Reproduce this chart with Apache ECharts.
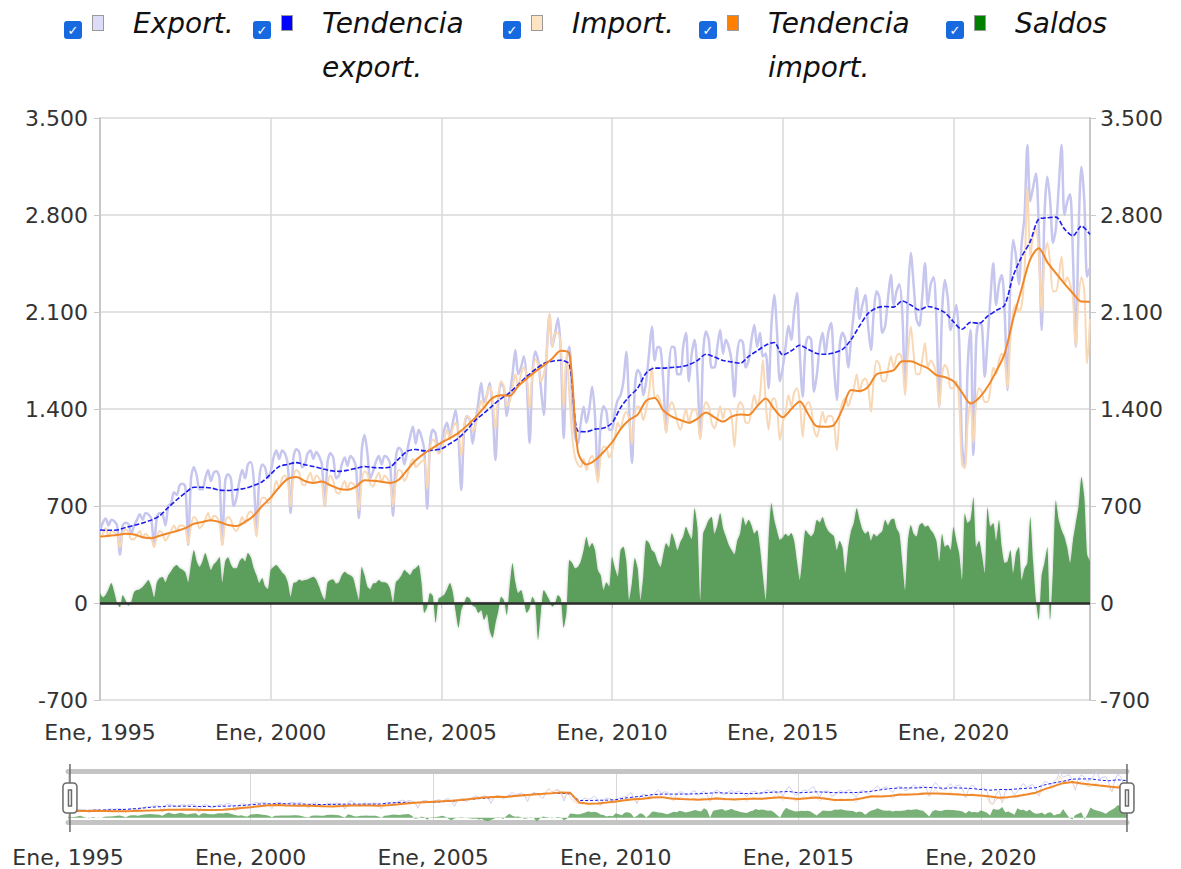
<!DOCTYPE html>
<html>
<head>
<meta charset="utf-8">
<title>Export / Import</title>
<script src="https://cdn.jsdelivr.net/npm/echarts@6/dist/echarts.min.js"></script>
<style>
  html, body { margin: 0; padding: 0; background: #fff; }
  #chart { width: 1181px; height: 869px; }
</style>
</head>
<body>
<div id="chart"></div>
<script>
// monthly values, Jan 1995 .. Jan 2024 (one row per year)
const exportsMonthly = [
  520, 580, 610, 560, 600, 590, 560, 350, 560, 580, 570, 500,
  560, 600, 640, 600, 650, 640, 610, 420, 620, 650, 640, 560,
  700, 720, 800, 780, 850, 860, 840, 420, 900, 980, 920, 820,
  820, 900, 960, 880, 940, 950, 900, 420, 880, 930, 900, 700,
  760, 880, 960, 900, 1000, 1018, 900, 540, 900, 1000, 980, 900,
  950, 1050, 1100, 1040, 1100, 1080, 1000, 650, 1050, 1110, 1090, 980,
  1000, 1080, 1100, 1040, 1090, 1060, 1000, 700, 1020, 1080, 1050, 900,
  920, 1000, 1050, 990, 1060, 1040, 980, 613, 1100, 1212, 1080, 900,
  950, 1020, 1060, 1000, 1060, 1050, 1000, 630, 1050, 1120, 1100, 1000,
  1100, 1200, 1272, 1150, 1250, 1200, 1100, 680, 1150, 1250, 1220, 1080,
  1150, 1250, 1300, 1200, 1300, 1393, 1200, 815, 1250, 1350, 1320, 1150,
  1300, 1450, 1587, 1450, 1500, 1587, 1400, 1032, 1450, 1580, 1550, 1350,
  1500, 1650, 1826, 1650, 1700, 1780, 1600, 1155, 1650, 1815, 1750, 1550,
  1357, 1800, 2078, 1850, 1950, 2054, 1800, 1190, 1750, 1850, 1450, 1200,
  1150, 1300, 1417, 1300, 1400, 1561, 1350, 890, 1300, 1420, 1380, 1250,
  1250, 1380, 1465, 1500, 1600, 1814, 1400, 1010, 1550, 1681, 1650, 1500,
  1600, 1800, 1994, 1750, 1850, 1838, 1600, 1236, 1700, 1850, 1840, 1650,
  1650, 1850, 1948, 1600, 1800, 1900, 1650, 1190, 1800, 1960, 1900, 1700,
  1700, 1850, 1970, 1800, 1900, 1850, 1750, 1489, 1800, 1898, 1880, 1700,
  1750, 1900, 2006, 1850, 1950, 1780, 1800, 1550, 2000, 2223, 1950, 1600,
  1700, 1850, 2000, 1900, 2100, 2237, 1800, 1489, 1850, 1922, 1900, 1525,
  1650, 1850, 1950, 1800, 1950, 2020, 1700, 1465, 1850, 1950, 1900, 1700,
  1900, 2100, 2273, 2050, 2150, 2223, 2000, 1826, 2100, 2250, 2200, 1950,
  2000, 2200, 2367, 2150, 2250, 2300, 2100, 1561, 2200, 2526, 2300, 2050,
  2000, 2200, 2451, 2150, 2300, 2350, 2050, 1417, 2100, 2331, 2200, 1970,
  2050, 2150, 1900, 1150, 984, 1700, 1970, 1068, 1900, 2020, 2000, 1633,
  1900, 2200, 2451, 2150, 2300, 2367, 2100, 1537, 2300, 2620, 2500, 2300,
  2600, 2800, 3305, 2900, 3000, 3100, 2700, 1970, 2800, 3076, 2900, 2600,
  2700, 3000, 3305, 2800, 2896, 2950, 2500, 1850, 2700, 3149, 2900, 2355,
  2420
];
const importsMonthly = [
  470, 500, 540, 480, 520, 510, 490, 400, 500, 530, 510, 460,
  460, 490, 520, 470, 500, 480, 470, 404, 480, 520, 500, 450,
  480, 520, 560, 520, 560, 560, 540, 430, 560, 620, 600, 540,
  560, 600, 650, 590, 630, 620, 580, 418, 580, 620, 600, 540,
  520, 560, 620, 580, 640, 660, 620, 480, 680, 760, 760, 720,
  740, 800, 880, 830, 900, 920, 880, 700, 900, 960, 940, 860,
  850, 900, 940, 870, 920, 900, 860, 700, 860, 920, 880, 800,
  790, 840, 880, 820, 870, 860, 830, 671, 880, 950, 930, 860,
  840, 900, 940, 870, 920, 900, 860, 700, 880, 960, 950, 880,
  920, 1000, 1040, 980, 1000, 1020, 1040, 820, 1100, 1180, 1160, 1080,
  1100, 1180, 1250, 1180, 1260, 1300, 1240, 1060, 1280, 1350, 1330, 1240,
  1280, 1380, 1460, 1400, 1500, 1560, 1480, 1250, 1500, 1600, 1560, 1420,
  1450, 1550, 1650, 1560, 1650, 1700, 1640, 1400, 1650, 1760, 1720, 1600,
  1650, 1800, 2092, 1850, 1950, 1950, 1850, 1400, 1800, 1500, 1200, 1050,
  1000, 980, 1040, 960, 1030, 1060, 1000, 870, 1050, 1130, 1120, 1050,
  1100, 1200, 1300, 1260, 1340, 1380, 1320, 1150, 1360, 1420, 1400, 1320,
  1400, 1520, 1705, 1480, 1500, 1450, 1380, 1227, 1400, 1450, 1400, 1300,
  1250, 1320, 1400, 1300, 1380, 1400, 1350, 1180, 1380, 1450, 1420, 1300,
  1260, 1330, 1420, 1330, 1400, 1400, 1350, 1128, 1380, 1450, 1420, 1300,
  1300, 1400, 1500, 1420, 1500, 1754, 1450, 1250, 1450, 1480, 1400, 1176,
  1300, 1380, 1500, 1420, 1520, 1550, 1450, 1200, 1420, 1450, 1400, 1250,
  1200, 1280, 1380, 1300, 1350, 1350, 1300, 1104, 1350, 1450, 1480, 1420,
  1480, 1550, 1650, 1520, 1600, 1620, 1560, 1380, 1620, 1750, 1720, 1600,
  1600, 1680, 1780, 1700, 1780, 1800, 1750, 1500, 1800, 1994, 1800, 1650,
  1650, 1750, 1876, 1700, 1750, 1720, 1650, 1417, 1650, 1720, 1680, 1550,
  1550, 1600, 1450, 1000, 974, 1300, 1450, 1155, 1450, 1550, 1520, 1450,
  1450, 1550, 1700, 1650, 1750, 1800, 1750, 1550, 1900, 2100, 2150, 2100,
  2150, 2400, 3004, 2500, 2650, 2700, 2500, 2100, 2500, 2600, 2450, 2250,
  2250, 2350, 2500, 2300, 2350, 2300, 2200, 1850, 2200, 2350, 2250, 1730,
  2050
];
const saldosMonthly = [
  72, 40, 60, 100, 144, 80, 0, -30, 58, 20, -20, 10,
  80, 94, 100, 115, 140, 166, 120, 40, 150, 180, 188, 150,
  200, 230, 260, 274, 250, 240, 220, 150, 280, 382, 300, 260,
  300, 361, 300, 238, 280, 300, 332, 150, 300, 330, 280, 250,
  250, 300, 325, 300, 361, 330, 253, 200, 144, 180, 120, 100,
  238, 260, 274, 250, 220, 200, 150, 45, 144, 150, 170, 160,
  166, 170, 180, 190, 170, 120, 60, 22, 150, 166, 170, 140,
  150, 200, 226, 210, 200, 180, 100, 22, 262, 200, 118, 100,
  140, 144, 166, 150, 150, 140, 100, 0, 150, 170, 200, 238,
  220, 202, 238, 250, 274, 150, -72, -30, 72, 50, -144, 30,
  45, 60, 100, 144, 80, -60, -180, -50, 0, 45, 30, -20,
  -30, -72, -50, -123, -80, -200, -253, -150, -60, 45, 20, -90,
  120, 289, 150, 72, 94, 20, -72, -40, 45, 0, -267, -60,
  94, 60, 20, -27, 0, 58, 30, -180, -60, 310, 289, 250,
  262, 300, 380, 478, 400, 433, 380, 238, 200, 94, 150, 118,
  334, 250, 190, 382, 406, 300, 22, 150, 325, 250, 22, 200,
  455, 433, 380, 361, 300, 260, 350, 433, 400, 505, 450, 380,
  440, 480, 551, 500, 460, 686, 550, 22, 500, 551, 600, 623,
  500, 560, 650, 540, 480, 420, 382, 350, 450, 500, 623, 560,
  600, 560, 500, 527, 400, 200, 22, 450, 722, 600, 520, 455,
  470, 500, 480, 505, 450, 300, 166, 350, 527, 500, 480, 510,
  600, 580, 620, 560, 520, 500, 480, 382, 450, 400, 216, 400,
  520, 580, 686, 600, 530, 500, 520, 450, 500, 480, 500, 520,
  600, 560, 600, 610, 540, 500, 300, 94, 450, 563, 500, 480,
  560, 577, 550, 560, 527, 500, 450, 300, 500, 404, 420, 380,
  548, 450, 361, 166, 650, 577, 600, 765, 404, 450, 350, 216,
  693, 550, 577, 450, 600, 400, 289, 300, 382, 216, 361, 404,
  166, 250, 289, 623, 300, 22, -123, 200, 289, 404, -123, 250,
  743, 600, 527, 478, 400, 289, 450, 577, 700, 911, 765, 350,
  300
];
// quarterly trend values (Jan, Apr, Jul, Oct), 1995 .. Jan 2024
const exportTrendQ = [
  527, 525, 527, 545,   560, 578, 598, 630,   690, 745, 795, 835,
  835, 830, 815, 812,   818, 828, 848, 875,   930, 985, 1000, 1013,
  998, 985, 970, 955,   950, 958, 972, 985,   978, 975, 982, 1040,
  1095, 1108, 1098, 1103,   1112, 1150, 1190, 1250,   1320, 1370, 1425, 1475,
  1518, 1575, 1635, 1685,   1728, 1745, 1752, 1720,   1240, 1236, 1255, 1262,
  1300, 1410, 1490, 1550,   1660, 1695, 1695, 1700,   1705, 1720, 1750, 1795,
  1775, 1750, 1740, 1730,   1780, 1820, 1860, 1880,   1790, 1820, 1860, 1830,
  1800, 1795, 1805, 1830,   1900, 2000, 2090, 2130,   2140, 2135, 2180, 2150,
  2115, 2140, 2125, 2095,   2030, 1975, 2025, 2018,   2070, 2110, 2150, 2360,
  2500, 2610, 2770, 2780,   2785, 2700, 2650, 2720,   2660
];
const importTrendQ = [
  479, 485, 491, 500,   495, 475, 468, 485,   503, 520, 540, 572,
  585, 598, 585, 563,   555, 585, 630, 700,   760, 835, 895, 910,
  880, 866, 876, 850,   825, 818, 840, 885,   882, 875, 866, 890,
  960, 1030, 1080, 1120,   1157, 1190, 1228, 1280,   1340, 1410, 1480, 1500,
  1495, 1565, 1620, 1670,   1715, 1765, 1820, 1800,   1090, 1000, 1030, 1090,
  1160, 1255, 1320, 1360,   1460, 1480, 1390, 1345,   1321, 1300, 1330, 1375,
  1340, 1309, 1345, 1360,   1357, 1420, 1475, 1400,   1340, 1400, 1455, 1360,
  1275, 1272, 1285, 1400,   1537, 1530, 1560, 1650,   1665, 1680, 1745, 1745,
  1720, 1694, 1645, 1630,   1600, 1520, 1440, 1480,   1560, 1670, 1800, 2050,
  2270, 2480, 2560, 2460,   2380, 2305, 2235, 2175,   2174
];
const firstYear = 1995;
const lastYear = 2024;

const FONT = 'DejaVu Sans';

// x position in years from the month / quarter index
const monthly = (arr) => arr.map((v, i) => [firstYear + i / 12, v]);
const quarterly = (arr) => arr.map((v, i) => [firstYear + i / 4, v]);

const fmtNum = (v) => String(v).replace(/\B(?=(\d{3})+(?!\d))/g, '.');
const fmtYear = (v) => 'Ene, ' + v;

// legend with a checkbox, a small swatch and (maybe two lines of) italic text
function legendFor(name, swatch, left) {
  let words = name.split(' ');
  let text = words.length > 1
    ? '{cb|✓}{g1| }{sq| }{g2| }{t|' + words[0] + '}\n{sp| }{t2|' + words.slice(1).join(' ') + '}'
    : '{cb|✓}{g1| }{sq| }{g2| }{t|' + name + '}';
  return {
    data: [name],
    left: left,
    top: 9,
    padding: 0,
    itemWidth: 0,
    itemHeight: 0,
    itemStyle: { opacity: 0 },
    formatter: () => text,
    textStyle: {
      rich: {
        cb: { width: 18, height: 18, lineHeight: 18, align: 'center', backgroundColor: '#1769e0', borderRadius: 3,
              color: '#fff', fontSize: 13, fontWeight: 'bold', verticalAlign: 'bottom', fontFamily: FONT },
        g1: { width: 11 },
        sq: { width: 10, height: 14, backgroundColor: swatch, borderColor: '#9a9a9a', borderWidth: 1 },
        g2: { width: 30 },
        sp: { width: 69 },
        t: { fontSize: 28, fontStyle: 'italic', lineHeight: 32, color: '#111', fontFamily: FONT },
        t2: { fontSize: 28, fontStyle: 'italic', lineHeight: 56, color: '#111', fontFamily: FONT }
      }
    }
  };
}

const axisGray = '#c8c8c8';
const gridGray = '#d8d8d8';

let chartDom = document.getElementById('chart');
let chart = echarts.init(chartDom, null, { renderer: 'svg' });

let option = {
  animation: false,
  backgroundColor: '#fff',
  textStyle: { fontFamily: FONT },
  legend: [
    legendFor('Export.', '#dcdcf8', 58),
    legendFor('Tendencia export.', '#0000ff', 247),
    legendFor('Import.', '#ffe4c4', 497),
    legendFor('Tendencia import.', '#ff8000', 693),
    legendFor('Saldos', '#008000', 941)
  ],
  grid: [
    { left: 100, right: 91, top: 118, bottom: 169 },
    { left: 68, right: 54, top: 771, height: 51 }
  ],
  xAxis: [
    {
      type: 'value', gridIndex: 0, min: firstYear, max: lastYear, interval: 5,
      axisLine: { lineStyle: { color: axisGray, width: 2 } },
      axisTick: { show: true, length: 5, lineStyle: { color: axisGray } },
      axisLabel: { formatter: fmtYear, fontSize: 22, color: '#333', margin: 21, showMaxLabel: false },
      splitLine: { show: true, lineStyle: { color: gridGray, width: 1.5 } }
    },
    {
      type: 'value', gridIndex: 1, min: firstYear, max: lastYear, interval: 5,
      axisLine: { onZero: false, lineStyle: { color: '#c4c4c4', width: 5 } },
      axisTick: { show: false },
      axisLabel: { formatter: fmtYear, fontSize: 22, color: '#333', margin: 24, showMaxLabel: false },
      splitLine: { show: true, lineStyle: { color: gridGray, width: 1 } }
    },
    {
      type: 'value', gridIndex: 1, position: 'top', min: firstYear, max: lastYear,
      axisLine: { onZero: false, lineStyle: { color: '#c4c4c4', width: 5 } },
      axisTick: { show: false }, axisLabel: { show: false }, splitLine: { show: false }
    }
  ],
  yAxis: [
    {
      type: 'value', gridIndex: 0, min: -700, max: 3500, interval: 700,
      axisLine: { show: true, lineStyle: { color: axisGray, width: 2 } },
      axisTick: { show: true, length: 6, lineStyle: { color: axisGray } },
      axisLabel: { formatter: fmtNum, fontSize: 22, color: '#333', margin: 12 },
      splitLine: { show: true, lineStyle: { color: gridGray, width: 1.5 } }
    },
    {
      type: 'value', gridIndex: 0, position: 'right', min: -700, max: 3500, interval: 700,
      axisLine: { show: true, lineStyle: { color: axisGray, width: 2 } },
      axisTick: { show: true, length: 6, lineStyle: { color: axisGray } },
      axisLabel: { formatter: fmtNum, fontSize: 22, color: '#333', margin: 10 },
      splitLine: { show: false }
    },
    { type: 'value', gridIndex: 1, min: -300, max: 3350, show: false, splitLine: { show: false } }
  ],
  dataZoom: [
    {
      type: 'slider', xAxisIndex: 0, filterMode: 'none',
      left: 68, right: 54, top: 764, height: 68,
      start: 0, end: 100,
      showDetail: false, showDataShadow: false, brushSelect: false, moveHandleSize: 0,
      backgroundColor: 'rgba(0,0,0,0)', borderColor: 'rgba(0,0,0,0)', fillerColor: 'rgba(0,0,0,0)',
      handleIcon: 'path://M7,0 L7,19 M7,49 L7,68 M3.5,19 h7 a3.5,3.5 0 0 1 3.5,3.5 v23 a3.5,3.5 0 0 1 -3.5,3.5 h-7 a3.5,3.5 0 0 1 -3.5,-3.5 v-23 a3.5,3.5 0 0 1 3.5,-3.5 z M5.5,26 h3 v16 h-3 z',
      handleSize: '100%',
      handleStyle: { color: '#fff', borderColor: '#6a6a6a', borderWidth: 1.5 }
    }
  ],
  series: [
    {
      name: 'Saldos', type: 'line', xAxisIndex: 0, yAxisIndex: 0,
      data: monthly(saldosMonthly), symbol: 'none', smooth: 0.2,
      itemStyle: { color: '#5c9e5c' },
      lineStyle: { width: 0 },
      areaStyle: { color: '#5c9e5c', opacity: 1, shadowBlur: 3, shadowColor: 'rgba(0,0,0,0.25)' },
      markLine: {
        silent: true, symbol: 'none', label: { show: false },
        lineStyle: { color: '#2b2b2b', width: 2.5, type: 'solid' },
        data: [{ yAxis: 0 }]
      }
    },
    {
      name: 'Export.', type: 'line', xAxisIndex: 0, yAxisIndex: 0,
      data: monthly(exportsMonthly), symbol: 'none', smooth: 0.3,
      itemStyle: { color: '#c6c6ee' },
      lineStyle: { color: '#c6c6ee', width: 2.5 }
    },
    {
      name: 'Import.', type: 'line', xAxisIndex: 0, yAxisIndex: 0,
      data: monthly(importsMonthly), symbol: 'none', smooth: 0.3,
      itemStyle: { color: '#f8d8b6' },
      lineStyle: { color: '#f8d8b6', width: 2 }
    },
    {
      name: 'Tendencia export.', type: 'line', xAxisIndex: 0, yAxisIndex: 0,
      data: quarterly(exportTrendQ), symbol: 'none', smooth: 0.3,
      itemStyle: { color: '#1c1cee' },
      lineStyle: { color: '#1c1cee', width: 1.6, type: [5, 2] }
    },
    {
      name: 'Tendencia import.', type: 'line', xAxisIndex: 0, yAxisIndex: 0,
      data: quarterly(importTrendQ), symbol: 'none', smooth: 0.3,
      itemStyle: { color: '#f0882a' },
      lineStyle: { color: '#f0882a', width: 2 }
    },
    // navigator copies
    {
      name: 'Saldos', type: 'line', xAxisIndex: 1, yAxisIndex: 2, silent: true,
      data: monthly(saldosMonthly), symbol: 'none',
      lineStyle: { width: 0 }, areaStyle: { color: '#6aa86a', opacity: 0.9 }
    },
    {
      name: 'Export.', type: 'line', xAxisIndex: 1, yAxisIndex: 2, silent: true,
      data: monthly(exportsMonthly), symbol: 'none',
      lineStyle: { color: '#d0d0f0', width: 1 }
    },
    {
      name: 'Import.', type: 'line', xAxisIndex: 1, yAxisIndex: 2, silent: true,
      data: monthly(importsMonthly), symbol: 'none',
      lineStyle: { color: '#f8dcc0', width: 1 }
    },
    {
      name: 'Tendencia export.', type: 'line', xAxisIndex: 1, yAxisIndex: 2, silent: true,
      data: quarterly(exportTrendQ), symbol: 'none',
      lineStyle: { color: '#1c1cee', width: 1, type: [3, 2] }
    },
    {
      name: 'Tendencia import.', type: 'line', xAxisIndex: 1, yAxisIndex: 2, silent: true,
      data: quarterly(importTrendQ), symbol: 'none',
      lineStyle: { color: '#f0882a', width: 2 }
    }
  ]
};

chart.setOption(option);
</script>
</body>
</html>
